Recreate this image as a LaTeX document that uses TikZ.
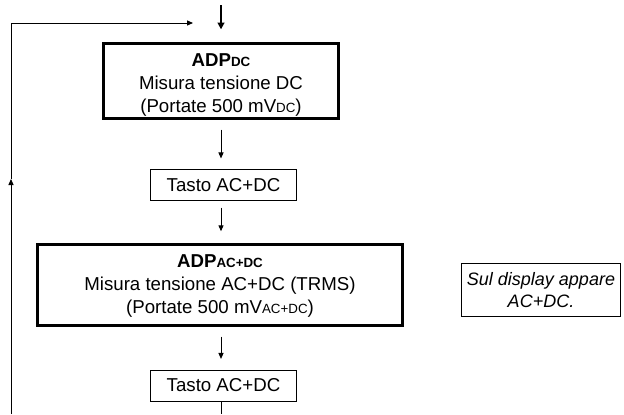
\documentclass[tikz,border=0pt]{standalone}
\usepackage{fontspec}
\setmainfont{Liberation Sans}
\usetikzlibrary{arrows.meta}
\newcommand\smc[1]{{\fontsize{10}{10}\selectfont #1}}
\begin{document}
\begin{tikzpicture}[x=0.75pt,y=-0.75pt,
  font=\fontsize{14}{17}\selectfont,
  thickbox/.style={draw, line width=2.6pt, inner sep=0pt},
  thinbox/.style={draw, line width=0.75pt, inner sep=0pt, align=center},
  txt/.style={align=center, inner sep=0pt},
  arr/.style={line width=0.75pt, -{Triangle[length=4.5pt,width=3.8pt]}},
  bigarr/.style={line width=1.6pt, -{Triangle[length=5pt,width=5pt]}},
  line/.style={line width=0.75pt}]
\useasboundingbox (0,0) rectangle (624,414);
% boxes
\node[thickbox, minimum width=175.9pt, minimum height=55.9pt] (b1) at (221,81) {};
\node[txt] (b1t) at (221,85) {\textbf{ADP\smc{DC}}\\Misura tensione DC\\(Portate 500 mV\smc{DC})};
\node[thinbox, minimum width=109.5pt, minimum height=23.25pt] (t1) at (223.5,185) {Tasto AC+DC};
\node[thickbox, minimum width=273.4pt, minimum height=60.4pt] (b2) at (220,285) {};
\node[txt] (b2t) at (220,286) {\textbf{ADP\smc{AC+DC}}\\Misura tensione AC+DC (TRMS)\\(Portate 500 mV\smc{AC+DC})};
\node[thinbox, minimum width=109.5pt, minimum height=23.25pt] (t2) at (223.5,385.5) {Tasto AC+DC};
\node[thinbox, minimum width=119pt, minimum height=39.75pt, font=\fontsize{13.5}{16.5}\selectfont\itshape] (note) at (541,290) {Sul display appare\\AC+DC.};
% coordinates
\coordinate (top) at (221,5);
\coordinate (bot) at (221,414);
\coordinate (fb0) at (11,414);
\coordinate (fbm) at (11,179);
\coordinate (fb1) at (11,23);
\coordinate (fb2) at (193,23);
% connectors
\draw[bigarr, shorten >=9.5pt] (top) -- (b1.north);
\draw[arr, shorten <=7.3pt, shorten >=7.9pt] (b1.south) -- (b1.south |- t1.north);
\draw[arr, shorten <=4.9pt, shorten >=8.8pt] (b1.south |- t1.south) -- (b1.south |- b2.north);
\draw[arr, shorten <=7.3pt, shorten >=7.9pt] (b1.south |- b2.south) -- (b1.south |- t2.north);
\draw[line] (b1.south |- t2.south) -- (bot);
\draw[arr] (fb0) -- (fbm);
\draw[line] (fbm) -- (fb1);
\draw[arr] (fb1) -- (fb2);
\end{tikzpicture}
\end{document}
